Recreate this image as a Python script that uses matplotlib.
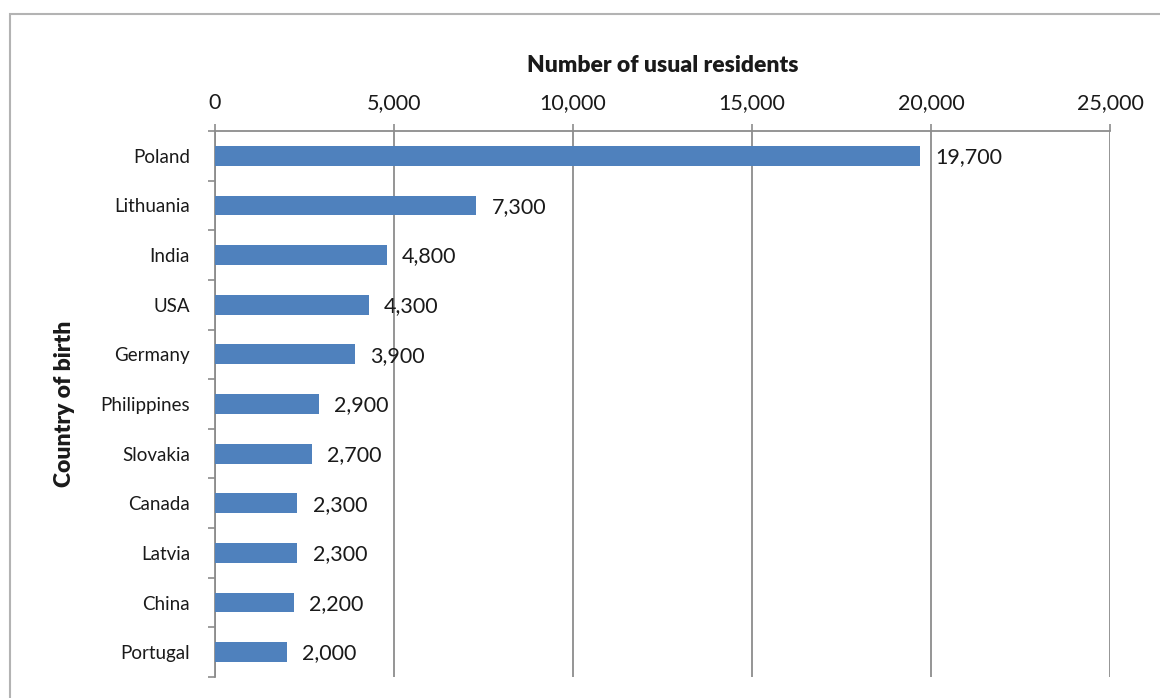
import matplotlib.pyplot as plt
from matplotlib.patches import Rectangle
from matplotlib.ticker import FuncFormatter, FixedLocator

countries = ["Poland", "Lithuania", "India", "USA", "Germany", "Philippines",
             "Slovakia", "Canada", "Latvia", "China", "Portugal"]
residents = [19700, 7300, 4800, 4300, 3900, 2900, 2700, 2300, 2300, 2200, 2000]
x_ticks = [0, 5000, 10000, 15000, 20000, 25000]

plt.rcParams['font.family'] = ['Lato', 'DejaVu Sans']

W, H = 1160, 698
fig = plt.figure(figsize=(W / 100, H / 100), dpi=100)

# chart area frame (runs off the right and bottom edges)
fig.patches.append(Rectangle((10 / W, -0.05), 1.2, 1 - 14 / H + 0.05,
                             transform=fig.transFigure, fill=False,
                             edgecolor='#b3b3b3', linewidth=1.5))

left, right, top, bottom = 215, 1110, 131, 677
ax = fig.add_axes([left / W, 1 - bottom / H, (right - left) / W, (bottom - top) / H])

grey = '#8c8c8c'
ink = '#1a1a1a'
ypos = list(range(len(countries)))
ax.barh(ypos, residents, height=0.4, color='#4f81bd', zorder=3)
for y, v in zip(ypos, residents):
    ax.annotate(f"{v:,}", (v, y), xytext=(11, -1), textcoords='offset points',
                ha='left', va='center', fontsize=15.5, color=ink, zorder=4)

ax.set_xlim(0, 25000)
ax.set_ylim(len(countries) - 0.5, -0.5)

ax.xaxis.tick_top()
ax.xaxis.set_label_position('top')
ax.set_xticks(x_ticks)
ax.xaxis.set_major_formatter(FuncFormatter(lambda v, p: f"{int(v):,}"))
ax.tick_params(axis='x', length=5, width=1.2, color=grey, pad=8, labelsize=15.5,
               labelcolor=ink)
ax.grid(axis='x', color=grey, linewidth=1.3, zorder=0)

ax.set_yticks(ypos)
ax.set_yticklabels(countries)
ax.yaxis.set_minor_locator(FixedLocator([i - 0.5 for i in range(len(countries) + 1)]))
ax.tick_params(axis='y', which='major', length=0, pad=18, labelsize=13.5,
               labelcolor=ink)
ax.tick_params(axis='y', which='minor', length=5, width=1.2, color=grey)

for s in ['right', 'bottom']:
    ax.spines[s].set_visible(False)
for s in ['left', 'top']:
    ax.spines[s].set_color(grey)
    ax.spines[s].set_linewidth(1.3)

ax.set_xlabel("Number of usual residents", fontsize=16.5, fontweight='heavy',
              labelpad=15, color=ink)
ax.set_ylabel("Country of birth", fontsize=16.5, fontweight='heavy',
              labelpad=18, color=ink)

fig.savefig('out.png', dpi=100)
